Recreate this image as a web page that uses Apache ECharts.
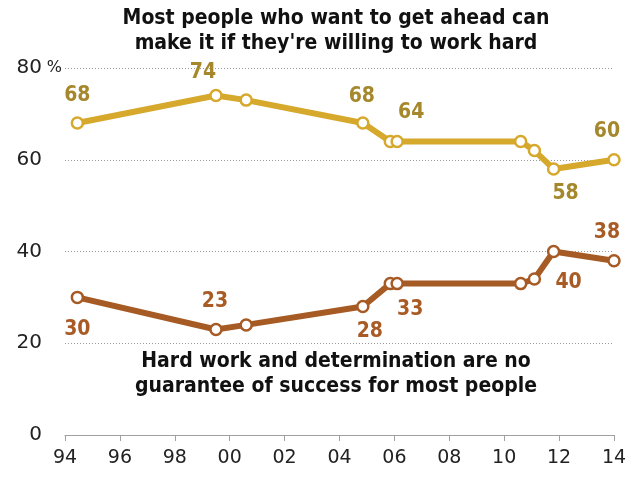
<!DOCTYPE html>
<html>
<head>
<meta charset="utf-8">
<script src="https://cdn.jsdelivr.net/npm/echarts@6/dist/echarts.min.js"></script>
<style>
  html, body { margin: 0; padding: 0; background: #fff; }
  #chart { width: 635px; height: 477px; }
</style>
</head>
<body>
<div id="chart"></div>
<script>
// survey dates (fractional years)
const years = [1994.45, 1999.5, 2000.6, 2004.85, 2005.85, 2006.1, 2010.6, 2011.1, 2011.8, 2014];
const getAhead = [68, 74, 73, 68, 64, 64, 64, 62, 58, 60];
const noGuarantee = [30, 23, 24, 28, 33, 33, 33, 34, 40, 38];
const titleAhead = ["Most people who want to get ahead can", "make it if they're willing to work hard"];
const titleGuarantee = ["Hard work and determination are no", "guarantee of success for most people"];

// label placement (offset of label centre from the point), null = no label
const aheadLabelOffsets = [[0, -28], [-13, -23], null, [-1, -27], null, [14, -29], null, null, [12, 25], [-7, -28]];
const guaranteeLabelOffsets = [[0, 32], [-1, -28], null, [7, 25], null, [13, 26], null, null, [15, 31], [-7, -28]];

const yellow = "#d6a82b";
const yellowText = "#a5872c";
const brown = "#a65a24";
const brownText = "#a95b25";
const condensed = "DejaVu Sans Condensed, Liberation Sans Narrow, sans-serif";
const plain = "DejaVu Sans, Verdana, sans-serif";

function buildData(vals, offs, color) {
  return vals.map((v, i) => {
    const item = { value: [years[i], v] };
    if (offs[i]) {
      item.label = {
        show: true,
        position: "inside",
        offset: offs[i],
        align: "center",
        verticalAlign: "middle",
        color: color,
        fontSize: 21,
        fontWeight: "bold",
        fontFamily: condensed,
      };
    }
    return item;
  });
}

function titleLines(lines, top) {
  return lines.map((t, i) => ({
    type: "text",
    x: 336,
    y: top + i * 25,
    style: {
      text: t, fill: "#111", fontSize: 21, fontWeight: "bold",
      fontFamily: condensed, align: "center", verticalAlign: "top",
    },
  }));
}

const chart = echarts.init(document.getElementById("chart"));
chart.setOption({
  animation: false,
  grid: { left: 65, right: 21, top: 68, bottom: 42 },
  graphic: titleLines(titleAhead, 8).concat(titleLines(titleGuarantee, 351)),
  xAxis: {
    type: "value",
    min: 1994,
    max: 2014,
    interval: 2,
    splitLine: { show: false },
    axisLine: { show: true, lineStyle: { color: "#a0a0a0", width: 1 } },
    axisTick: { show: true, length: 6, lineStyle: { color: "#a0a0a0" } },
    axisLabel: {
      color: "#222", fontSize: 19, margin: 14, fontFamily: plain,
      formatter: (v) => String(v).slice(2),
    },
  },
  yAxis: {
    type: "value",
    min: 0,
    max: 80,
    interval: 20,
    axisLine: { show: false },
    axisTick: { show: false },
    splitLine: {
      show: true,
      lineStyle: { color: "#999", type: [1, 2], width: 1 },
    },
    axisLabel: {
      margin: 3,
      formatter: (v) => v === 80 ? "{n|80}{p|%}" : "{n|" + v + "}{p|}",
      rich: {
        n: { color: "#222", fontSize: 20, fontFamily: plain },
        p: { color: "#222", fontSize: 16, width: 18, padding: [0, 0, 0, 2], fontFamily: plain },
      },
    },
  },
  series: [
    {
      name: "Get ahead",
      type: "line",
      data: buildData(getAhead, aheadLabelOffsets, yellowText),
      lineStyle: { color: yellow, width: 6 },
      itemStyle: { color: "#fff", borderColor: yellow, borderWidth: 2.5 },
      symbol: "circle",
      symbolSize: 11,
      z: 3,
    },
    {
      name: "No guarantee",
      type: "line",
      data: buildData(noGuarantee, guaranteeLabelOffsets, brownText),
      lineStyle: { color: brown, width: 6 },
      itemStyle: { color: "#fff", borderColor: brown, borderWidth: 2.5 },
      symbol: "circle",
      symbolSize: 11,
      z: 3,
    },
  ],
});
</script>
</body>
</html>
